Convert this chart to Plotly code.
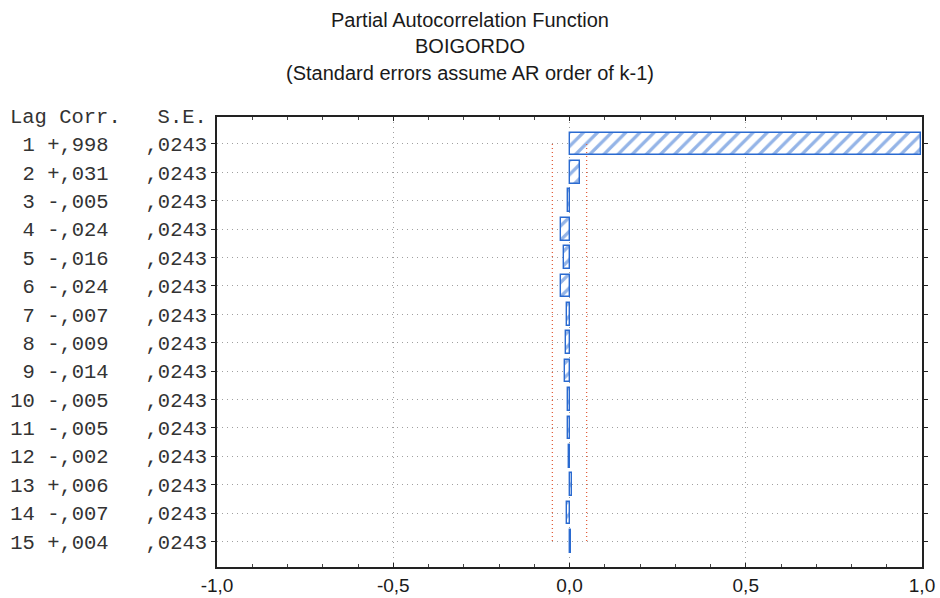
import plotly.graph_objects as go

lags = list(range(1, 16))
corr = [0.998, 0.031, -0.005, -0.024, -0.016, -0.024, -0.007, -0.009, -0.014,
        -0.005, -0.005, -0.002, 0.006, -0.007, 0.004]
se = [0.0243] * 15
x_ticks = [-1.0, -0.5, 0.0, 0.5, 1.0]
title_lines = [
    "Partial Autocorrelation Function",
    "BOIGORDO",
    "(Standard errors assume AR order of k-1)",
]

NB = "\u00a0"


def fmt_corr(v):
    s = f"{abs(v):.3f}"[1:].replace(".", ",")
    return ("+" if v >= 0 else "-") + s


def fmt_se(v):
    return f"{v:.4f}"[1:].replace(".", ",")


row_labels = [
    f"{l:>2} {fmt_corr(c)}   {fmt_se(s)}".replace(" ", NB)
    for l, c, s in zip(lags, corr, se)
]
header = "Lag Corr.   S.E.".replace(" ", NB)
x_ticktext = [f"{v:.1f}".replace(".", ",") for v in x_ticks]

blue = "#2a6ad0"
red = "#e2603e"

fig = go.Figure()

fig.add_trace(go.Bar(
    x=corr, y=lags, orientation="h", base=0, width=0.8,
    marker=dict(
        color="white",
        line=dict(color=blue, width=1.4),
        pattern=dict(shape="/", fgcolor=blue, bgcolor="white", size=10, solidity=0.33),
    ),
    showlegend=False,
))

lim = [2 * s for s in se]
for sign in (-1, 1):
    fig.add_trace(go.Scatter(
        x=[sign * lim[0], sign * lim[-1]], y=[lags[0], lags[-1]], mode="lines",
        line=dict(color=red, width=1.3, dash="1px,3px"), showlegend=False,
    ))

fig.add_annotation(
    text=header, xref="paper", x=0, xanchor="right", xshift=-8,
    yref="paper", y=1.0, yanchor="middle", showarrow=False,
    font=dict(family="Liberation Mono", size=20.5, color="#333333"),
)

title_y = [20, 46, 73]
for txt, py in zip(title_lines, title_y):
    fig.add_annotation(
        text=txt, xref="paper", x=(470 - 217) / (940 - 217 - 18), xanchor="center",
        yref="paper", y=(598 - 31 - py) / (598 - 117 - 31), yanchor="middle",
        showarrow=False,
        font=dict(family="Liberation Sans", size=20, color="#1a1a1a"),
    )

grid_dash = "1px,4px"

fig.update_layout(
    width=940, height=598,
    margin=dict(l=217, r=18, t=117, b=31, autoexpand=False),
    paper_bgcolor="white", plot_bgcolor="white",
    xaxis=dict(
        range=[-1.0, 1.0], tickvals=x_ticks, ticktext=x_ticktext,
        showgrid=True, gridcolor="#a0a0a0", griddash=grid_dash, gridwidth=1,
        zeroline=False, showline=True, linecolor="#222222", linewidth=1.6, mirror="ticks",
        ticks="inside", ticklen=4, tickcolor="#222222",
        minor=dict(dtick=0.1, ticks="inside", ticklen=3, tickcolor="#444444", showgrid=False),
        tickfont=dict(family="Liberation Sans", size=19, color="#1a1a1a"),
        automargin=False, fixedrange=True,
    ),
    yaxis=dict(
        range=[15.9, 0.05], tickvals=lags, ticktext=row_labels,
        showgrid=True, gridcolor="#a0a0a0", griddash=grid_dash, gridwidth=1,
        zeroline=False, showline=True, linecolor="#222222", linewidth=1.6, mirror="ticks",
        ticks="outside", ticklen=4, tickcolor="#222222",
        tickfont=dict(family="Liberation Mono", size=20.5, color="#333333"),
        automargin=False, fixedrange=True,
    ),
    bargap=0,
)

fig.write_html(
    "out.html",
    config={"displayModeBar": False},
    post_script="document.body.style.margin='0px';document.body.style.overflow='hidden';",
)
